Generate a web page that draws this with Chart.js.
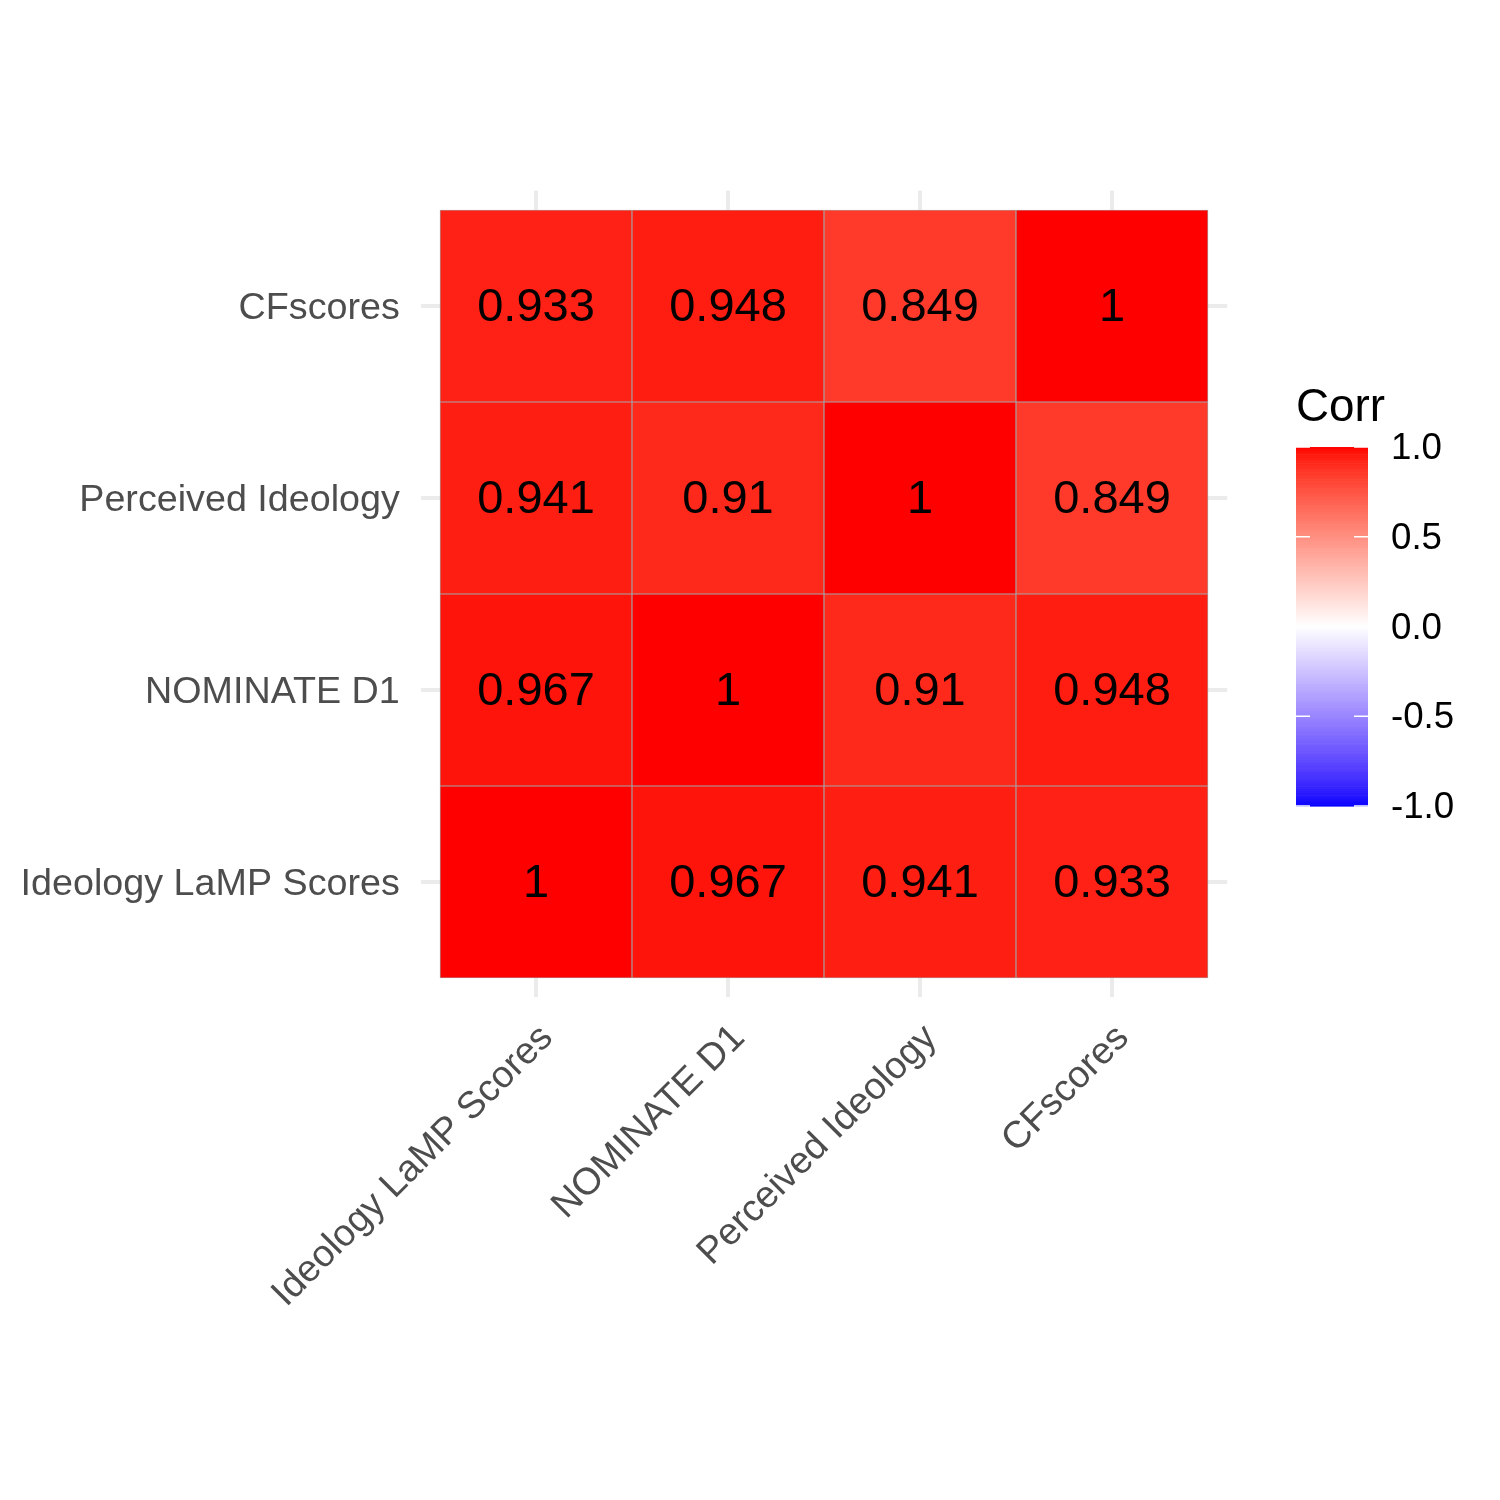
<!DOCTYPE html>
<html>
<head>
<meta charset="utf-8">
<script src="https://cdn.jsdelivr.net/npm/chart.js@4.4.1/dist/chart.umd.min.js"></script>
<style>
html,body{margin:0;padding:0;background:#fff;}
#wrap{width:1500px;height:1500px;position:relative;}
</style>
</head>
<body>
<div id="wrap"><canvas id="c" width="1500" height="1500"></canvas></div>
<script>
// ---- data ----
const variables = ["Ideology LaMP Scores", "NOMINATE D1", "Perceived Ideology", "CFscores"];
// correlation matrix rows (bottom to top) x columns (left to right)
const rowLaMP      = [1, 0.967, 0.941, 0.933];
const rowNOMINATE  = [0.967, 1, 0.91, 0.948];
const rowPerceived = [0.941, 0.91, 1, 0.849];
const rowCF        = [0.933, 0.948, 0.849, 1];
const corrRows = [rowLaMP, rowNOMINATE, rowPerceived, rowCF];
const legendTicks = [1.0, 0.5, 0.0, -0.5, -1.0];
const legendTitle = "Corr";

// ---- colour scale (blue - white - red) ----
function srgbToLin(c){c/=255;return c<=0.04045?c/12.92:Math.pow((c+0.055)/1.055,2.4);}
function linToSrgb(c){const v=c<=0.0031308?12.92*c:1.055*Math.pow(c,1/2.4)-0.055;return Math.max(0,Math.min(255,v*255));}
const Xn=0.95047,Yn=1.0,Zn=1.08883;
function f(t){return t>Math.pow(6/29,3)?Math.cbrt(t):t/(3*Math.pow(6/29,2))+4/29;}
function fi(t){return t>6/29?t*t*t:3*Math.pow(6/29,2)*(t-4/29);}
function rgb2lab(r,g,b){
  const R=srgbToLin(r),G=srgbToLin(g),B=srgbToLin(b);
  const X=0.4124564*R+0.3575761*G+0.1804375*B;
  const Y=0.2126729*R+0.7151522*G+0.0721750*B;
  const Z=0.0193339*R+0.1191920*G+0.9503041*B;
  const fx=f(X/Xn),fy=f(Y/Yn),fz=f(Z/Zn);
  return [116*fy-16,500*(fx-fy),200*(fy-fz)];
}
function lab2rgb(L,a,b){
  const fy=(L+16)/116,fx=fy+a/500,fz=fy-b/200;
  const X=Xn*fi(fx),Y=Yn*fi(fy),Z=Zn*fi(fz);
  const R=3.2404542*X-1.5371385*Y-0.4985314*Z;
  const G=-0.9692660*X+1.8760108*Y+0.0415560*Z;
  const B=0.0556434*X-0.2040259*Y+1.0572252*Z;
  return [linToSrgb(R),linToSrgb(G),linToSrgb(B)];
}
const RGB_LOW=[0,0,255],RGB_MID=[255,255,255],RGB_HIGH=[255,0,0];
const LAB_LOW=rgb2lab(...RGB_LOW),LAB_MID=rgb2lab(...RGB_MID),LAB_HIGH=rgb2lab(...RGB_HIGH);
function corrColor(v){
  const t=Math.abs(v);
  const endL=v>=0?LAB_HIGH:LAB_LOW, endR=v>=0?RGB_HIGH:RGB_LOW;
  const lab=[0,1,2].map(k=>LAB_MID[k]+(endL[k]-LAB_MID[k])*t);
  const c1=lab2rgb(lab[0],lab[1],lab[2]);
  const c2=[0,1,2].map(k=>RGB_MID[k]+(endR[k]-RGB_MID[k])*t);
  const c=[0,1,2].map(k=>Math.round((c1[k]+c2[k])/2));
  return `rgb(${c[0]},${c[1]},${c[2]})`;
}

// ---- datasets: one per row, floating bars ----
const datasets = corrRows.map((row, ri) => ({
  label: variables[ri],
  data: row.map((v, ci) => ({x: ci + 0.5, y: [ri, ri + 1], v: v})),
  backgroundColor: row.map(v => corrColor(v)),
  borderColor: '#A4A4A4',
  borderWidth: 0.9,
  borderSkipped: false,
  grouped: false,
  barPercentage: 1.0,
  categoryPercentage: 1.0
}));

const centers = variables.map((_, i) => i + 0.5);
const FONT = "'Liberation Sans', Arial, Helvetica, sans-serif";

const cellLabels = {
  id: 'cellLabels',
  afterDatasetsDraw(chart) {
    const ctx = chart.ctx, xs = chart.scales.x, ys = chart.scales.y;
    ctx.save();
    ctx.fillStyle = '#000';
    ctx.font = `47px ${FONT}`;
    ctx.textAlign = 'center';
    ctx.textBaseline = 'middle';
    corrRows.forEach((row, ri) => {
      row.forEach((v, ci) => {
        ctx.fillText(String(v), xs.getPixelForValue(ci + 0.5), ys.getPixelForValue(ri + 0.5) + 2);
      });
    });
    ctx.restore();
  }
};

const colorBar = {
  id: 'colorBar',
  afterDraw(chart) {
    const ctx = chart.ctx;
    const x0 = 1296, w = 72, yTop = 447, yBot = 806;
    const val2y = v => yTop + (1 - v) / 2 * (yBot - yTop);
    ctx.save();
    const n = 200;
    for (let i = 0; i < n; i++) {
      const v1 = 1 - 2 * i / n, v2 = 1 - 2 * (i + 1) / n;
      ctx.fillStyle = corrColor((v1 + v2) / 2);
      const y1 = val2y(v1), y2 = val2y(v2);
      ctx.fillRect(x0, y1, w, y2 - y1 + 0.6);
    }
    ctx.strokeStyle = '#fff';
    ctx.lineWidth = 1.5;
    legendTicks.forEach(t => {
      const y = val2y(t);
      ctx.beginPath();
      ctx.moveTo(x0, y); ctx.lineTo(x0 + 14, y);
      ctx.moveTo(x0 + w - 14, y); ctx.lineTo(x0 + w, y);
      ctx.stroke();
    });
    ctx.fillStyle = '#000';
    ctx.font = `36.7px ${FONT}`;
    ctx.textAlign = 'left';
    ctx.textBaseline = 'middle';
    legendTicks.forEach(t => {
      ctx.fillText(t.toFixed(1), 1391, val2y(t) + 2);
    });
    ctx.font = `45.8px ${FONT}`;
    ctx.textBaseline = 'alphabetic';
    ctx.fillText(legendTitle, 1296, 421);
    ctx.restore();
  }
};

new Chart(document.getElementById('c'), {
  type: 'bar',
  data: { datasets },
  plugins: [cellLabels, colorBar],
  options: {
    responsive: false,
    animation: false,
    devicePixelRatio: 1,
    layout: { padding: { top: 190.8, right: 272.8, left: 0, bottom: 0 } },
    plugins: { legend: { display: false }, tooltip: { enabled: false } },
    scales: {
      x: {
        type: 'linear',
        min: -0.1, max: 4.1,
        offset: false,
        border: { display: false },
        grid: { color: '#EBEBEB', lineWidth: 4, drawTicks: false, offset: false },
        afterBuildTicks(s) { s.ticks = centers.map(v => ({ value: v })); },
        afterFit(s) { s.height = 502.8; },
        ticks: {
          autoSkip: false,
          minRotation: 45, maxRotation: 45,
          padding: 19,
          labelOffset: 11,
          color: '#4D4D4D',
          font: { family: FONT, size: 37.7 },
          callback: (v) => variables[Math.round(v - 0.5)]
        }
      },
      y: {
        type: 'linear',
        min: -0.1, max: 4.1,
        offset: false,
        border: { display: false },
        grid: { color: '#EBEBEB', lineWidth: 4, drawTicks: false, offset: false },
        afterBuildTicks(s) { s.ticks = centers.map(v => ({ value: v })); },
        afterFit(s) { s.width = 420.8; },
        ticks: {
          autoSkip: false,
          padding: 21,
          labelOffset: 3,
          color: '#4D4D4D',
          font: { family: FONT, size: 37.7 },
          callback: (v) => variables[Math.round(v - 0.5)]
        }
      }
    }
  }
});
</script>
</body>
</html>
